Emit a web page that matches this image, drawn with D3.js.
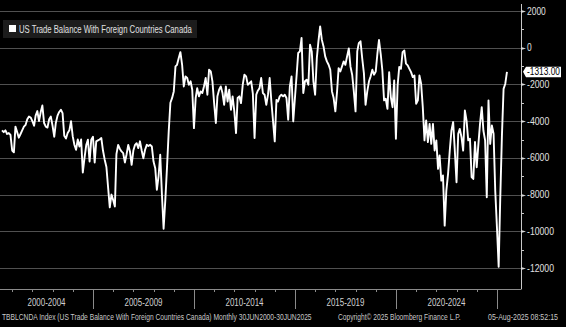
<!DOCTYPE html>
<html>
<head>
<meta charset="utf-8">
<script src="https://cdn.jsdelivr.net/npm/d3@7"></script>
<style>
html,body{margin:0;padding:0;background:#000;}
svg{display:block;}
</style>
</head>
<body>
<svg id="chart" width="566" height="327"></svg>
<script>
// ---- Data (monthly, Jun 2000 .. Jun 2025), millions USD ----
const seriesName = "US Trade Balance With Foreign Countries Canada";
const startYear = 2000, startMonth = 5; // June (0-based)
const values = [
  -4500,-4600,-4500,-4700,-4650,-4750,-5600,-5700,-4300,-4600,
  -4900,-4700,-4500,-4300,-4200,-3900,-3750,-3800,-4000,-4250,
  -3700,-3450,-4000,-3500,-3150,-4100,-4300,-4350,-3900,-3750,
  -4250,-4850,-4100,-3700,-3500,-3380,-3560,-4800,-4950,-4650,
  -4500,-4000,-4830,-5300,-5560,-5000,-5380,-5000,-6800,-6000,
  -5300,-5010,-6200,-5010,-4850,-6250,-5100,-5050,-5000,-4920,
  -5600,-6100,-6500,-7600,-8700,-8000,-8300,-8650,-5800,-5300,
  -5500,-5650,-5740,-6250,-5800,-5300,-5650,
  -6380,-5600,-5290,-5200,-5470,-5100,-5600,-6020,-5560,-5290,
  -5350,-5290,-5380,-6200,-6560,-7740,-7000,-5830,-8000,-9860,
  -8300,-6500,-4600,-3000,-2750,-2380,-1020,-930,-560,-240,
  -930,-2110,-1560,
  -1650,-2020,-1830,-2290,-4380,-2740,-2200,-2650,-2380,-2470,
  -2110,-1650,-2560,-1200,-1290,-1830,-3020,-4100,-2650,-2290,
  -2110,-2470,-3110,-2110,-2930,-2290,-3380,-2650,-3470,-4650,
  -2740,-2650,-3020,-2020,-1470,-1560,-2020,-1930,-1830,-2500,
  -4920,-2560,
  -2340,-2200,-1650,-2470,-2560,-3110,-2560,-1650,-2930,-4000,
  -5100,-2840,-2930,-2650,-2560,-2650,-2560,-2740,-3920,-2110,
  -1560,-4010,-2740,-1470,-290,-200,530,-2470,-1830,-1740,
  -2020,160,-200,-1830,-2560,-560,350,1160,440,70,
  -470,-745,-930,-1200,-2380,-2740,-3470,-2380,-1110,-1290,
  -1020,-745,-930,-470,-40,-1020,-1470,-2380,-3470,-200,
  250,350,-560,-1380,-3110,-2380,-1830,-1560,-1200,-1470,
  -1300,-300,420,
  -330,-1240,-2870,-2780,-3330,-1330,-2690,-3240,-1780,-4960,
  -2050,-1050,-1150,-240,-150,-870,-960,-1150,-1330,-1600,
  -1510,-3050,-2870,-1510,-1960,-3240,-5050,-3960,-5140,-4150,
  -5240,-4150,-5600,-5050,-6600,-5870,-7240,-6960,-9690,-7780,
  -6870,-5600,-4510,-4050,-5600,-7330,-4690,-4420,-4870,-5600,
  -3420,-3960,-5050,-4960,-7050,-7150,-5140,-6510,-5240,-4150,
  -3240,-4510,-5050,-8150,-2870,-5240,-4240,-4690,-7780,-9780,
  -11930,-8300,-4800,-2240,-1960,-1313
];
const lastLabel = "-1313.00";
const yTicks = [2000,0,-2000,-4000,-6000,-8000,-10000,-12000];
const yMinorTicks = [1000,-1000,-3000,-5000,-7000,-9000,-11000];
const periodLabels = ["2000-2004","2005-2009","2010-2014","2015-2019","2020-2024"];
const periodStarts = [2000,2005,2010,2015,2020];
const footerLeft = "TBBLCNDA Index (US Trade Balance With Foreign Countries Canada)  Monthly 30JUN2000-30JUN2025";
const footerMid = "Copyright\u00A9 2025 Bloomberg Finance L.P.";
const footerRight = "05-Aug-2025 08:52:15";

// ---- Build ----
const data = values.map((v,i)=>({date:new Date(startYear, startMonth+1+i, 0), value:v}));

const svg = d3.select("#chart");
const plotLeft = 0, plotRight = 521, plotTop = 4, plotBottom = 289;
const FF = "Liberation Sans, Arial, sans-serif";

const x = d3.scaleTime()
  .domain([new Date(2000,0,1), new Date(2025,0,1)])
  .range([-8, 497]);
const y = d3.scaleLinear().domain([-12000, 2000]).range([268, 11]);

// text helper: place text at (px,py), squeezed horizontally to a target width
function fitText(parent, str, px, py, width, opts){
  const g = parent.append("g");
  const t = g.append("text").attr("x",0).attr("y",0)
    .attr("font-family",FF).attr("font-size",opts.size)
    .attr("fill",opts.fill).attr("text-anchor",opts.anchor||"start")
    .text(str);
  const w = t.node().getComputedTextLength();
  const s = w>0 ? width/w : 1;
  g.attr("transform",`translate(${px},${py}) scale(${s},1)`);
  return g;
}

svg.append("rect").attr("width",566).attr("height",327).attr("fill","#000");

// grid
svg.append("g").selectAll("line").data(yTicks).join("line")
  .attr("x1",plotLeft).attr("x2",plotRight)
  .attr("y1",d=>Math.round(y(d))+0.5).attr("y2",d=>Math.round(y(d))+0.5)
  .attr("stroke","#505050").attr("stroke-width",1);

// bottom axis line
svg.append("line").attr("x1",plotLeft).attr("x2",plotRight+0.5)
  .attr("y1",plotBottom+0.5).attr("y2",plotBottom+0.5)
  .attr("stroke","#8a8a8a");

// yearly minor ticks
const years = d3.range(2000, 2026);
svg.append("g").selectAll("line").data(years.filter(yr=>yr%5!==0)).join("line")
  .attr("x1",d=>Math.round(x(new Date(d,0,1)))+0.5).attr("x2",d=>Math.round(x(new Date(d,0,1)))+0.5)
  .attr("y1",plotBottom).attr("y2",plotBottom+3)
  .attr("stroke","#8a8a8a");
// major separators
svg.append("g").selectAll("line").data(years.filter(yr=>yr%5===0 && x(new Date(yr,0,1))>0)).join("line")
  .attr("x1",d=>Math.round(x(new Date(d,0,1)))+0.5).attr("x2",d=>Math.round(x(new Date(d,0,1)))+0.5)
  .attr("y1",plotBottom).attr("y2",plotBottom+20)
  .attr("stroke","#8a8a8a");

// period labels
const pl = svg.append("g");
periodLabels.forEach((lab,i)=>{
  const a = Math.max(0, x(new Date(periodStarts[i],0,1)));
  const b = x(new Date(periodStarts[i]+5,0,1));
  fitText(pl, lab, (a+b)/2, 306, 38, {size:"10px", fill:"#d0d0d0", anchor:"middle"});
});

// right axis
svg.append("line").attr("x1",plotRight+0.5).attr("x2",plotRight+0.5)
  .attr("y1",plotTop).attr("y2",plotBottom)
  .attr("stroke","#c8c8c8");
svg.append("g").selectAll("line").data(yMinorTicks).join("line")
  .attr("x1",plotRight).attr("x2",plotRight+3)
  .attr("y1",d=>Math.round(y(d))+0.5).attr("y2",d=>Math.round(y(d))+0.5)
  .attr("stroke","#c8c8c8");
svg.append("g").selectAll("path").data(yTicks).join("path")
  .attr("d",d=>{const yy=Math.round(y(d))+0.5; return `M${plotRight},${yy-1.5}L${plotRight+5},${yy}L${plotRight},${yy+1.5}Z`;})
  .attr("fill","#d8d8d8");
const yl = svg.append("g");
yTicks.forEach(d=>{
  const s = String(d);
  const w = s.replace("-","").length*4.7 + (s.startsWith("-")?3.5:0);
  fitText(yl, s, 527, y(d)+3.5, w, {size:"10px", fill:"#e0e0e0"});
});

// series line
const line = d3.line().x(d=>x(d.date)).y(d=>y(d.value)).curve(d3.curveLinear);
svg.append("path").datum(data)
  .attr("d",line).attr("fill","none")
  .attr("stroke","#ffffff").attr("stroke-width",1.9).attr("stroke-linejoin","round");

// last value label
const last = data[data.length-1];
const ly = y(last.value);
svg.append("path")
  .attr("d",`M${plotRight+2},${ly}L${plotRight+5},${ly-5}L${plotRight+40},${ly-5}L${plotRight+40},${ly+5.5}L${plotRight+5},${ly+5.5}Z`)
  .attr("fill","#ffffff");
fitText(svg, lastLabel, plotRight+6, ly+3.5, 33, {size:"10px", fill:"#000"});

// legend
const lg = svg.append("g");
lg.append("rect").attr("x",3).attr("y",20).attr("width",194).attr("height",18).attr("fill","#1c1c1c");
lg.append("rect").attr("x",9).attr("y",25).attr("width",7).attr("height",7).attr("fill","#ffffff");
fitText(lg, seriesName, 19, 32.5, 173, {size:"10px", fill:"#e0e0e0"});

// footer
fitText(svg, footerLeft, 2, 319.5, 310, {size:"8.5px", fill:"#c8c8c8"});
fitText(svg, footerMid, 338, 319.5, 123, {size:"8.5px", fill:"#c8c8c8"});
fitText(svg, footerRight, 488, 319.5, 70, {size:"8.5px", fill:"#c8c8c8"});
</script>
</body>
</html>
